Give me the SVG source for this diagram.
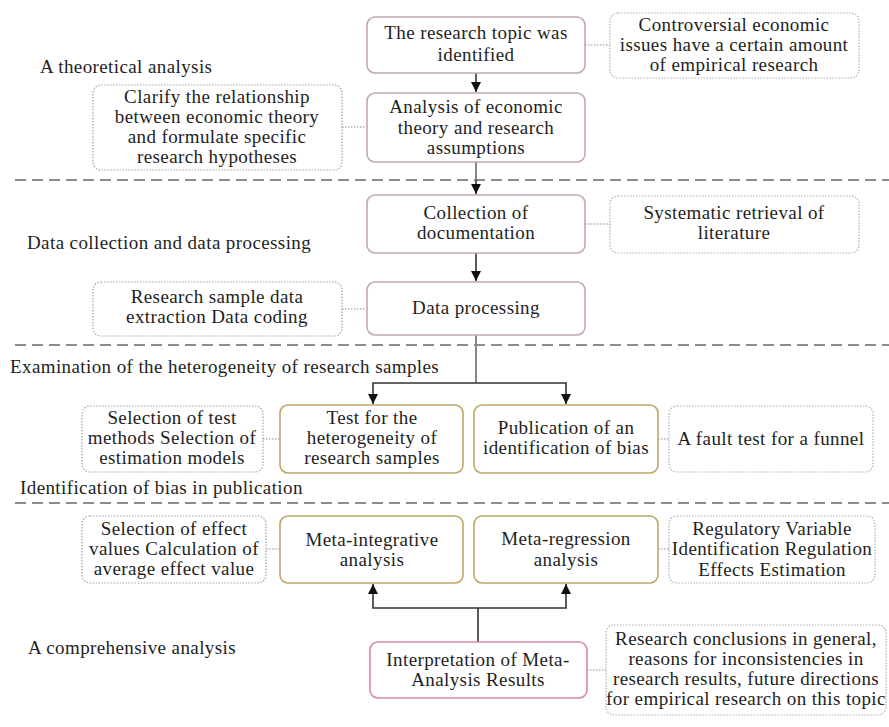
<svg xmlns="http://www.w3.org/2000/svg" width="889" height="727" viewBox="0 0 889 727">
<defs>
<style>
text{font-size:19px;letter-spacing:0.4px;fill:#1e1e1e}
.c{font-family:'Liberation Serif', serif;text-anchor:middle}
.l{font-family:'Liberation Serif', serif}
.main{fill:#fff;stroke:#c4a8ac;stroke-width:1.6}
.gold{fill:#fff;stroke:#bfa76a;stroke-width:1.6}
.pink{fill:#fff;stroke:#d88aaa;stroke-width:1.6}
.note{fill:#fff;stroke:#9aa8a4;stroke-width:1.2;stroke-dasharray:1.5 1.5}
.noteg{fill:#fff;stroke:#b0b0b0;stroke-width:1.2;stroke-dasharray:1.5 1.5}
.sep{stroke:#8c8c8c;stroke-width:2;stroke-dasharray:11 6;fill:none}
.ln{stroke:#333;stroke-width:1.6;fill:none}
.lng{stroke:#888;stroke-width:2;fill:none}
.dot{stroke:#8a8a8a;stroke-width:1.2;stroke-dasharray:1.5 1.5;fill:none}
</style>
<marker id="ah" markerWidth="10" markerHeight="10" refX="10" refY="5" orient="auto-start-reverse" markerUnits="userSpaceOnUse" viewBox="0 0 10 10">
<path d="M0,0 L10,5 L0,10 Z" fill="#111"/>
</marker>
</defs>
<g id="separators">
<line class="sep" x1="15" y1="180" x2="889" y2="180"/>
<line class="sep" x1="15" y1="345" x2="889" y2="345"/>
<line class="sep" x1="15" y1="503" x2="889" y2="503"/>
</g>
<g id="section-labels">
<text class="l" x="40" y="73">A theoretical analysis</text>
<text class="l" x="27" y="249">Data collection and data processing</text>
<text class="l" x="10" y="373">Examination of the heterogeneity of research samples</text>
<text class="l" x="20" y="494">Identification of bias in publication</text>
<text class="l" x="28" y="654">A comprehensive analysis</text>
</g>
<g id="connectors">
<line class="ln" x1="476" y1="73" x2="476" y2="92" marker-end="url(#ah)"/>
<line class="lng" x1="476" y1="162" x2="476" y2="180"/>
<line class="ln" x1="476" y1="180" x2="476" y2="194" marker-end="url(#ah)"/>
<line class="ln" x1="476" y1="253" x2="476" y2="281" marker-end="url(#ah)"/>
<line class="lng" x1="476" y1="335" x2="476" y2="383"/>
<polyline class="ln" points="373,404 373,383 566,383 566,404" marker-start="url(#ah)" marker-end="url(#ah)"/>
<line class="ln" x1="478" y1="642" x2="478" y2="608"/>
<polyline class="ln" points="373,584 373,608 566,608 566,584" marker-start="url(#ah)" marker-end="url(#ah)"/>
<line class="dot" x1="585" y1="45" x2="610" y2="45"/>
<line class="dot" x1="342" y1="127" x2="367" y2="127"/>
<line class="dot" x1="585" y1="224" x2="610" y2="224"/>
<line class="dot" x1="342" y1="309" x2="367" y2="309"/>
<line class="dot" x1="263" y1="439" x2="280" y2="439"/>
<line class="dot" x1="658" y1="439" x2="669" y2="439"/>
<line class="dot" x1="266" y1="549" x2="280" y2="549"/>
<line class="dot" x1="658" y1="549" x2="669" y2="549"/>
<line class="dot" x1="587" y1="670" x2="606" y2="670"/>
</g>
<g id="n-topic">
<rect class="main" x="367" y="17" width="218" height="56" rx="8"/>
<text class="c" x="476" y="39">The research topic was</text>
<text class="c" x="476" y="61">identified</text>
</g>
<g id="n-controversial">
<rect class="noteg" x="610" y="13" width="249" height="65" rx="8"/>
<text class="c" x="734" y="31">Controversial economic</text>
<text class="c" x="734" y="51">issues have a certain amount</text>
<text class="c" x="734" y="71">of empirical research</text>
</g>
<g id="n-theory">
<rect class="main" x="367" y="93" width="218" height="69" rx="8"/>
<text class="c" x="476" y="113">Analysis of economic</text>
<text class="c" x="476" y="134">theory and research</text>
<text class="c" x="476" y="154">assumptions</text>
</g>
<g id="n-clarify">
<rect class="note" x="93" y="85" width="249" height="85" rx="8"/>
<text class="c" x="217" y="103">Clarify the relationship</text>
<text class="c" x="217" y="123">between economic theory</text>
<text class="c" x="217" y="143">and formulate specific</text>
<text class="c" x="217" y="163">research hypotheses</text>
</g>
<g id="n-collection">
<rect class="main" x="367" y="195" width="218" height="58" rx="8"/>
<text class="c" x="476" y="219">Collection of</text>
<text class="c" x="476" y="239">documentation</text>
</g>
<g id="n-retrieval">
<rect class="noteg" x="610" y="196" width="249" height="57" rx="8"/>
<text class="c" x="734" y="219">Systematic retrieval of</text>
<text class="c" x="734" y="239">literature</text>
</g>
<g id="n-processing">
<rect class="main" x="367" y="282" width="218" height="53" rx="8"/>
<text class="c" x="476" y="314">Data processing</text>
</g>
<g id="n-sample">
<rect class="note" x="93" y="282" width="249" height="54" rx="8"/>
<text class="c" x="217" y="303">Research sample data</text>
<text class="c" x="217" y="323">extraction Data coding</text>
</g>
<g id="n-hetero">
<rect class="gold" x="280" y="405" width="183" height="68" rx="8"/>
<text class="c" x="372" y="424">Test for the</text>
<text class="c" x="372" y="444">heterogeneity of</text>
<text class="c" x="372" y="464">research samples</text>
</g>
<g id="n-testsel">
<rect class="note" x="82" y="406" width="181" height="66" rx="8"/>
<text class="c" x="172" y="424">Selection of test</text>
<text class="c" x="172" y="444">methods Selection of</text>
<text class="c" x="172" y="464">estimation models</text>
</g>
<g id="n-bias">
<rect class="gold" x="474" y="405" width="184" height="68" rx="8"/>
<text class="c" x="566" y="434">Publication of an</text>
<text class="c" x="566" y="454">identification of bias</text>
</g>
<g id="n-funnel">
<rect class="noteg" x="669" y="406" width="204" height="66" rx="8"/>
<text class="c" x="771" y="445">A fault test for a funnel</text>
</g>
<g id="n-metaint">
<rect class="gold" x="280" y="516" width="183" height="67" rx="8"/>
<text class="c" x="372" y="546">Meta-integrative</text>
<text class="c" x="372" y="566">analysis</text>
</g>
<g id="n-effect">
<rect class="note" x="82" y="516" width="184" height="67" rx="8"/>
<text class="c" x="174" y="535">Selection of effect</text>
<text class="c" x="174" y="555">values Calculation of</text>
<text class="c" x="174" y="575">average effect value</text>
</g>
<g id="n-metareg">
<rect class="gold" x="474" y="516" width="184" height="67" rx="8"/>
<text class="c" x="566" y="545">Meta-regression</text>
<text class="c" x="566" y="566">analysis</text>
</g>
<g id="n-regulatory">
<rect class="noteg" x="669" y="516" width="206" height="67" rx="8"/>
<text class="c" x="772" y="535">Regulatory Variable</text>
<text class="c" x="772" y="555">Identification Regulation</text>
<text class="c" x="772" y="576">Effects Estimation</text>
</g>
<g id="n-interpret">
<rect class="pink" x="370" y="642" width="217" height="56" rx="8"/>
<text class="c" x="478" y="666">Interpretation of Meta-</text>
<text class="c" x="478" y="686">Analysis Results</text>
</g>
<g id="n-conclusions">
<rect class="noteg" x="606" y="625" width="280" height="90" rx="8"/>
<text class="c" x="746" y="645">Research conclusions in general,</text>
<text class="c" x="746" y="665">reasons for inconsistencies in</text>
<text class="c" x="746" y="685">research results, future directions</text>
<text class="c" x="746" y="705">for empirical research on this topic</text>
</g>
</svg>
